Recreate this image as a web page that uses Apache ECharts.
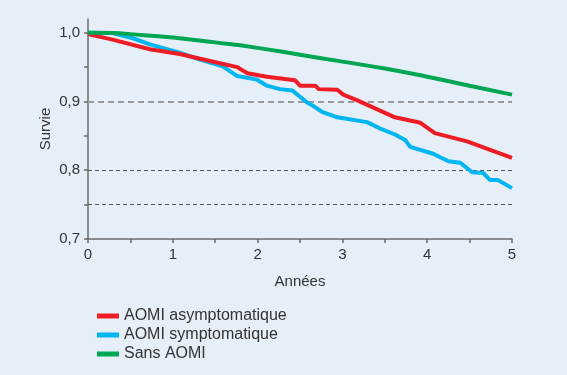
<!DOCTYPE html>
<html>
<head>
<meta charset="utf-8">
<script src="https://cdn.jsdelivr.net/npm/echarts@6/dist/echarts.min.js"></script>
<style>
  html, body { margin: 0; padding: 0; background: #e6eef8; }
  #chart { width: 567px; height: 375px; }
</style>
</head>
<body>
<div id="chart"></div>
<script>
// survival curves (années -> survie)
const asymptT = [0, 0.29, 0.73, 1.08, 1.40, 1.76, 1.88, 2.11, 2.44, 2.50, 2.68, 2.72, 2.94, 3.01, 3.17, 3.62, 3.92, 4.09, 4.47, 5.0];
const asymptS = [0.998, 0.990, 0.976, 0.969, 0.960, 0.950, 0.941, 0.936, 0.931, 0.923, 0.923, 0.918, 0.917, 0.910, 0.902, 0.877, 0.869, 0.854, 0.842, 0.818];

const symptT = [0, 0.29, 0.53, 0.73, 1.08, 1.32, 1.59, 1.76, 1.99, 2.11, 2.26, 2.41, 2.50, 2.58, 2.65, 2.76, 2.94, 3.29, 3.44, 3.62, 3.74, 3.80, 4.07, 4.25, 4.39, 4.53, 4.66, 4.74, 4.83, 5.0];
const symptS = [1.0, 0.9995, 0.992, 0.983, 0.971, 0.961, 0.951, 0.937, 0.932, 0.923, 0.918, 0.916, 0.907, 0.899, 0.894, 0.885, 0.877, 0.870, 0.861, 0.852, 0.844, 0.834, 0.824, 0.813, 0.811, 0.797, 0.796, 0.786, 0.786, 0.774];

const sansT = [0, 0.3, 0.5, 1, 1.5, 2, 2.5, 3, 3.5, 4, 4.5, 5];
const sansS = [1.0, 0.9995, 0.998, 0.993, 0.986, 0.978, 0.968, 0.958, 0.948, 0.936, 0.923, 0.910];

const xLabels = [0, 1, 2, 3, 4, 5];
const xTicks = [0, 0.5, 1, 1.5, 2, 2.5, 3, 3.5, 4, 4.5, 5];
const yLabels = [0.7, 0.8, 0.9, 1.0];
const yTicks = [0.7, 0.75, 0.8, 0.85, 0.9, 0.95, 1.0];

const zip = (t, s) => t.map((v, i) => [v, s[i]]);
const fr = v => v.toFixed(1).replace('.', ',');

const chart = echarts.init(document.getElementById('chart'));
const axisCol = '#6b6b6b';
const txtCol = '#333';
const font = 'Liberation Sans';

chart.setOption({
  backgroundColor: '#e6eef8',
  animation: false,
  grid: { left: 88, right: 55, top: 19, bottom: 136 },
  legend: {
    orient: 'vertical',
    left: 92,
    top: 303,
    icon: 'rect',
    itemWidth: 22,
    itemHeight: 5,
    itemGap: 3,
    textStyle: { fontFamily: font, fontSize: 16, color: txtCol, lineHeight: 16 },
    data: ['AOMI asymptomatique', 'AOMI symptomatique', 'Sans AOMI']
  },
  xAxis: {
    type: 'value',
    min: 0,
    max: 5,
    name: 'Années',
    nameLocation: 'middle',
    nameGap: 35,
    nameMoveOverlap: false,
    nameTextStyle: { fontFamily: font, fontSize: 15, color: txtCol },
    axisLine: { lineStyle: { color: axisCol, width: 1.5 } },
    axisTick: { customValues: xTicks, length: 4, lineStyle: { color: axisCol, width: 1.5 } },
    axisLabel: { customValues: xLabels, formatter: v => String(v), margin: 8, fontFamily: font, fontSize: 15, color: txtCol },
    splitLine: { show: false }
  },
  yAxis: {
    type: 'value',
    min: 0.7,
    max: 1.02,
    name: 'Survie',
    nameLocation: 'middle',
    nameGap: 35,
    nameMoveOverlap: false,
    nameRotate: 90,
    nameTextStyle: { fontFamily: font, fontSize: 15, color: txtCol },
    axisLine: { show: true, lineStyle: { color: axisCol, width: 1.5 } },
    axisTick: { show: true, customValues: yTicks, length: 4, lineStyle: { color: axisCol, width: 1.5 } },
    axisLabel: { customValues: yLabels, formatter: fr, margin: 8, fontFamily: font, fontSize: 15, color: txtCol },
    splitLine: { show: false }
  },
  series: [
    {
      name: 'AOMI asymptomatique',
      type: 'line',
      data: zip(asymptT, asymptS),
      showSymbol: false,
      color: '#ee1c25',
      lineStyle: { width: 4 },
      z: 4
    },
    {
      name: 'AOMI symptomatique',
      type: 'line',
      data: zip(symptT, symptS),
      showSymbol: false,
      color: '#00b6f0',
      lineStyle: { width: 4 },
      z: 3
    },
    {
      name: 'Sans AOMI',
      type: 'line',
      data: zip(sansT, sansS),
      showSymbol: false,
      smooth: true,
      color: '#00a651',
      lineStyle: { width: 4 },
      z: 5,
      markLine: {
        silent: true,
        symbol: 'none',
        label: { show: false },
        z: 1,
        data: [
          { yAxis: 0.9, lineStyle: { color: '#9a9a9a', width: 2, type: [6, 4] } },
          { yAxis: 0.8, lineStyle: { color: '#555', width: 1, type: [4, 3] } },
          { yAxis: 0.75, lineStyle: { color: '#555', width: 1, type: [4, 3] } }
        ]
      }
    }
  ]
});
</script>
</body>
</html>
